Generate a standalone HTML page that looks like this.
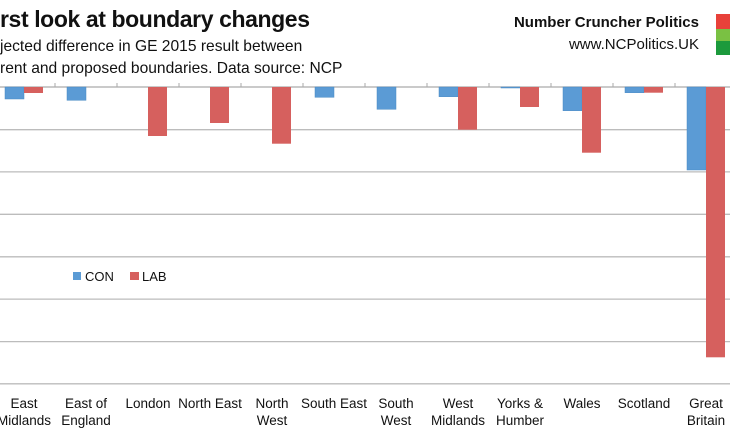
<!DOCTYPE html>
<html><head><style>
html,body{margin:0;padding:0;background:#fff;}
body{width:730px;height:430px;overflow:hidden;position:relative;font-family:"Liberation Sans",sans-serif;}
.t{position:absolute;white-space:nowrap;color:#111;}
.lab{position:absolute;width:80px;text-align:center;font-size:13.5px;line-height:17px;color:#111;}
</style></head><body>
<div class="t" style="left:0;top:6px;font-size:23px;font-weight:bold;letter-spacing:-0.4px;">rst look at boundary changes</div>
<div class="t" style="left:0;top:38px;font-size:15.6px;">jected difference in GE 2015 result between</div>
<div class="t" style="left:0;top:60px;font-size:15.6px;">rent and proposed boundaries. Data source: NCP</div>
<div class="t" style="right:31px;top:14px;font-size:15px;font-weight:bold;">Number Cruncher Politics</div>
<div class="t" style="right:31px;top:36px;font-size:15px;">www.NCPolitics.UK</div>
<div style="position:absolute;left:716px;top:14px;width:14px;height:15px;background:#e8413a"></div>
<div style="position:absolute;left:716px;top:29px;width:14px;height:12px;background:#7ac143"></div>
<div style="position:absolute;left:716px;top:41px;width:14px;height:14px;background:#1c9a3c"></div>
<svg width="730" height="430" style="position:absolute;left:0;top:0">
<g stroke="#bcbcbc" stroke-width="1.3">
<line x1="0" x2="730" y1="129.7" y2="129.7"/><line x1="0" x2="730" y1="171.9" y2="171.9"/>
<line x1="0" x2="730" y1="214.3" y2="214.3"/><line x1="0" x2="730" y1="256.8" y2="256.8"/>
<line x1="0" x2="730" y1="299.1" y2="299.1"/><line x1="0" x2="730" y1="341.6" y2="341.6"/>
<line x1="0" x2="730" y1="383.8" y2="383.8"/>
<line x1="0" x2="730" y1="87" y2="87" stroke="#aaa"/>
</g>
<g stroke="#aaa" stroke-width="1">
<line x1="55" x2="55" y1="83" y2="87"/><line x1="117" x2="117" y1="83" y2="87"/><line x1="179" x2="179" y1="83" y2="87"/>
<line x1="241" x2="241" y1="83" y2="87"/><line x1="303" x2="303" y1="83" y2="87"/><line x1="365" x2="365" y1="83" y2="87"/>
<line x1="427" x2="427" y1="83" y2="87"/><line x1="489" x2="489" y1="83" y2="87"/><line x1="551" x2="551" y1="83" y2="87"/>
<line x1="613" x2="613" y1="83" y2="87"/><line x1="675" x2="675" y1="83" y2="87"/>
</g>
<g fill="#5b9bd5" stroke="#4a8ac4" stroke-width="0.5">
<rect x="5" y="87" width="19" height="12"/>
<rect x="67" y="87" width="19" height="13.3"/>
<rect x="315" y="87" width="19" height="10.3"/>
<rect x="377" y="87" width="19" height="22.3"/>
<rect x="439" y="87" width="19" height="9.7"/>
<rect x="501" y="87" width="19" height="1"/>
<rect x="563" y="87" width="19" height="23.7"/>
<rect x="625" y="87" width="19" height="5.7"/>
<rect x="687" y="87" width="19" height="83"/>
</g>
<g fill="#d6605e">
<rect x="24" y="87" width="19" height="6"/>
<rect x="148" y="87" width="19" height="49"/>
<rect x="210" y="87" width="19" height="36"/>
<rect x="272" y="87" width="19" height="56.7"/>
<rect x="458" y="87" width="19" height="42.7"/>
<rect x="520" y="87" width="19" height="20"/>
<rect x="582" y="87" width="19" height="65.7"/>
<rect x="644" y="87" width="19" height="5.7"/>
<rect x="706" y="87" width="19" height="270.3"/>
</g>
<rect x="73" y="272" width="8" height="8" fill="#5b9bd5"/>
<rect x="130" y="272" width="9" height="8" fill="#d6605e"/>
<text x="85" y="281" font-size="13" font-family="Liberation Sans, sans-serif" fill="#111">CON</text>
<text x="142" y="281" font-size="13" font-family="Liberation Sans, sans-serif" fill="#111">LAB</text>
</svg>
<div class="lab" style="left:-16px;top:395px">East<br>Midlands</div>
<div class="lab" style="left:46px;top:395px">East of<br>England</div>
<div class="lab" style="left:108px;top:395px">London</div>
<div class="lab" style="left:170px;top:395px">North East</div>
<div class="lab" style="left:232px;top:395px">North<br>West</div>
<div class="lab" style="left:294px;top:395px">South East</div>
<div class="lab" style="left:356px;top:395px">South<br>West</div>
<div class="lab" style="left:418px;top:395px">West<br>Midlands</div>
<div class="lab" style="left:480px;top:395px">Yorks &amp;<br>Humber</div>
<div class="lab" style="left:542px;top:395px">Wales</div>
<div class="lab" style="left:604px;top:395px">Scotland</div>
<div class="lab" style="left:666px;top:395px">Great<br>Britain</div>
</body></html>
